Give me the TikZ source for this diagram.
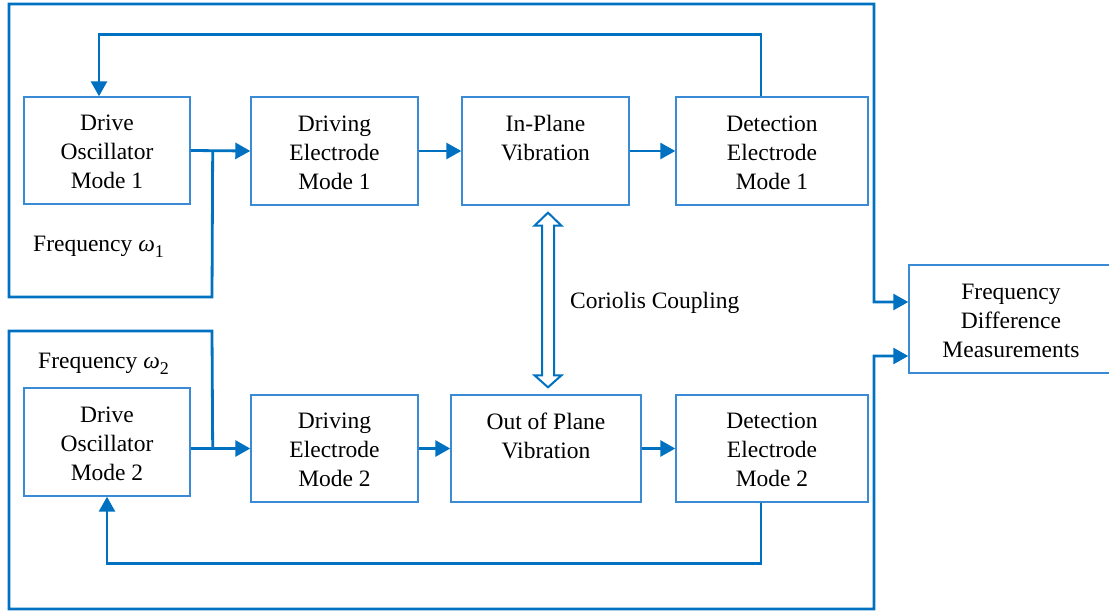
\documentclass[tikz,border=0pt]{standalone}
\usepackage{fontspec}
\setmainfont{Liberation Serif}
\usetikzlibrary{arrows.meta,calc}
\definecolor{flow}{RGB}{0,112,192}
\definecolor{frame}{RGB}{58,138,214}
\begin{document}
\begin{tikzpicture}[x=1pt,y=-1pt,
  blk/.style={draw=frame, line width=1.4pt, fill=white, inner sep=0pt},
  lbl/.style={align=center, font=\fontsize{23.5}{29}\selectfont, inner sep=0pt},
  wire/.style={draw=flow, line width=2.8pt},
  arr/.style={wire, -{Triangle[length=15pt,width=16pt]}}]
\useasboundingbox (0,0) rectangle (1109,615);

% blocks of the upper (mode 1) chain
\node[blk, minimum width=166pt, minimum height=107pt] (osc1) at (107,150.5) {};
\node[blk, minimum width=167pt, minimum height=108pt] (drv1) at (334.5,151) {};
\node[blk, minimum width=167pt, minimum height=108pt] (ip)   at (545.5,151) {};
\node[blk, minimum width=192pt, minimum height=108pt] (det1) at (772,151) {};

% blocks of the lower (mode 2) chain
\node[blk, minimum width=166pt, minimum height=108pt] (osc2) at (107,442) {};
\node[blk, minimum width=167pt, minimum height=107pt] (drv2) at (334.5,448.5) {};
\node[blk, minimum width=190pt, minimum height=107pt] (oop)  at (546,448.5) {};
\node[blk, minimum width=192pt, minimum height=107pt] (det2) at (772,448.5) {};

% measurement block
\node[blk, minimum width=204pt, minimum height=108pt] (fdm) at (1011,319) {};

% block texts
\node[lbl] (osc1t) at ($(osc1)+(0,1.5)$) {Drive\\Oscillator\\Mode 1};
\node[lbl] (drv1t) at ($(drv1)+(0,1.5)$) {Driving\\Electrode\\Mode 1};
\node[lbl] (ipt)   at ($(ip)+(0,-13)$) {In-Plane\\Vibration};
\node[lbl] (det1t) at ($(det1)+(0,1.5)$) {Detection\\Electrode\\Mode 1};
\node[lbl] (osc2t) at ($(osc2)+(0,1.5)$) {Drive\\Oscillator\\Mode 2};
\node[lbl] (drv2t) at ($(drv2)+(0,1.5)$) {Driving\\Electrode\\Mode 2};
\node[lbl] (oopt)  at ($(oop)+(0,-13)$) {Out of Plane\\Vibration};
\node[lbl] (det2t) at ($(det2)+(0,1.5)$) {Detection\\Electrode\\Mode 2};
\node[lbl] (fdmt)  at ($(fdm)+(0,1.5)$) {Frequency\\Difference\\Measurements};

% free labels
\node[lbl, anchor=west] (freq1) at (33,247) {Frequency \textit{ω}\raisebox{-0.28em}{\fontsize{18}{18}\selectfont 1}};
\node[lbl, anchor=west] (freq2) at (38,364) {Frequency \textit{ω}\raisebox{-0.28em}{\fontsize{18}{18}\selectfont 2}};
\node[lbl, anchor=west] (cori) at (570,303) {Coriolis Coupling};

% forward paths
\draw[arr] (osc1.east) -- (drv1.west);
\draw[arr] (drv1.east) -- (ip.west);
\draw[arr] (ip.east) -- (det1.west);
\draw[arr] (osc2.east |- drv2.west) -- (drv2.west);
\draw[arr] (drv2.east) -- (oop.west);
\draw[arr] (oop.east) -- (det2.west);

% feedback loops
\draw[arr] ([xshift=-11pt]det1.north) -- ++(0,-62) -| ([xshift=-8pt]osc1.north);
\draw[arr] ([xshift=-11pt]det2.south) -- ++(0,61) -| (osc2.south);

% oscillator outputs routed to the measurement block
\coordinate (j1) at ($(osc1.east)+(22,0)$);
\coordinate (j2) at ($(osc2.east |- drv2.west)+(22,0)$);
\coordinate (in1) at ($(fdm.west)+(0,-17)$);
\coordinate (in2) at ($(fdm.west)+(0,37)$);
\draw[arr] (j1) -- (212,297) -- (9,297) -- (9,4) -- (874,4) |- (in1);
\draw[arr] (j2) -- (212,331) -- (9,331) -- (9,609) -- (874,609) |- (in2);

% Coriolis coupling: hollow double arrow
\coordinate (ct) at ($(ip.south)+(2.5,7)$);
\coordinate (cb) at ($(oop.north)+(2,-7)$);
\draw[flow, line width=2pt, fill=white, line join=miter]
  (ct) -- ++(13.5,13) -- ++(-7.5,0) -- ($(cb)+(6,-12)$) -- ++(7.5,0) -- (cb)
  -- ++(-13.5,-12) -- ++(7.5,0) -- ($(ct)+(-6,13)$) -- ++(-7.5,0) -- cycle;
\end{tikzpicture}
\end{document}
